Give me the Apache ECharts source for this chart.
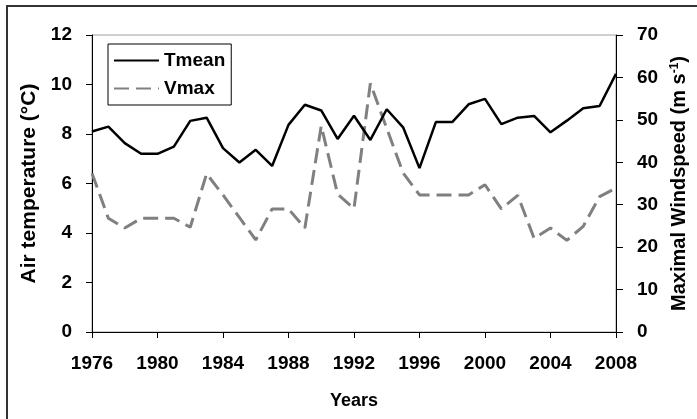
<!DOCTYPE html>
<html>
<head>
<meta charset="utf-8">
<script src="https://cdn.jsdelivr.net/npm/echarts@6/dist/echarts.min.js"></script>
<style>
html, body { margin: 0; padding: 0; background: #fff; }
#chart { width: 697px; height: 419px; }
</style>
</head>
<body>
<div id="chart"></div>
<script>
// years 1976..2008
var years = [1976, 1977, 1978, 1979, 1980, 1981, 1982, 1983, 1984, 1985, 1986,
	1987, 1988, 1989, 1990, 1991, 1992, 1993, 1994, 1995, 1996, 1997,
	1998, 1999, 2000, 2001, 2002, 2003, 2004, 2005, 2006, 2007, 2008];
// air temperature, left axis
var tmean = [8.1, 8.3, 7.63, 7.2, 7.2, 7.49, 8.53, 8.66, 7.43, 6.85, 7.36,
	6.71, 8.37, 9.18, 8.95, 7.8, 8.74, 7.76, 9.0, 8.27, 6.62, 8.48,
	8.48, 9.2, 9.42, 8.4, 8.66, 8.73, 8.07, 8.54, 9.04, 9.13, 10.43];
// max windspeed, right axis
var vmax = [37.4, 26.8, 24.5, 26.8, 26.8, 26.8, 24.7, 37.3, 32.3, 27.0, 21.7,
	29.0, 29.0, 24.5, 48.6, 32.5, 29.1, 58.6, 48.0, 37.5, 32.3, 32.3,
	32.3, 32.3, 34.7, 29.0, 32.2, 22.1, 24.5, 21.6, 24.9, 31.9, 33.9];
var xTicks = [1976, 1980, 1984, 1988, 1992, 1996, 2000, 2004, 2008];

var font = '"Liberation Sans", Arial, sans-serif';

function pairs(vals) {
	return years.map(function (y, i) { return [y, vals[i]]; });
}

var chart = echarts.init(document.getElementById('chart'));
var option = {
	backgroundColor: '#fff',
	animation: false,
	textStyle: { fontFamily: font },
	graphic: [
		{ type: 'line', shape: { x1: 6, y1: 6, x2: 697, y2: 6 }, style: { stroke: '#333', lineWidth: 2 } },
		{ type: 'line', shape: { x1: 7, y1: 6, x2: 7, y2: 419 }, style: { stroke: '#333', lineWidth: 2 } }
	],
	grid: {
		left: 92, right: 70, top: 35, bottom: 87,
		show: true, borderColor: '#a0a0a0', borderWidth: 1
	},
	legend: {
		orient: 'vertical',
		left: 108, top: 44,
		itemWidth: 45, itemHeight: 14, itemGap: 9,
		padding: [7, 6, 7, 5],
		borderColor: '#000', borderWidth: 1,
		itemStyle: { opacity: 0 },
		textStyle: { fontFamily: font, fontWeight: 'bold', fontSize: 19, color: '#000' },
		data: ['Tmean', 'Vmax']
	},
	xAxis: {
		type: 'value', min: 1976, max: 2008, interval: 4,
		name: 'Years', nameLocation: 'middle', nameGap: 60,
		nameTextStyle: { fontFamily: font, fontWeight: 'bold', fontSize: 18, color: '#000' },
		axisLine: { lineStyle: { color: '#000', width: 1 } },
		axisTick: { length: 6, lineStyle: { color: '#000' } },
		axisLabel: {
			fontFamily: font, fontWeight: 'bold', fontSize: 19, color: '#000', margin: 22,
			formatter: function (v) { return xTicks.indexOf(v) >= 0 ? String(v) : ''; }
		},
		splitLine: { show: false }
	},
	yAxis: [{
		type: 'value', min: 0, max: 12, interval: 2, position: 'left',
		name: 'Air temperature (°C)', nameLocation: 'middle', nameGap: 48,
		nameTextStyle: { fontFamily: font, fontWeight: 'bold', fontSize: 21, color: '#000' },
		axisLine: { show: true, lineStyle: { color: '#000', width: 1 } },
		axisTick: { show: true, length: 6, lineStyle: { color: '#000' } },
		axisLabel: { fontFamily: font, fontWeight: 'bold', fontSize: 19, color: '#000', margin: 20 },
		splitLine: { show: false }
	}, {
		type: 'value', min: 0, max: 70, interval: 10, position: 'right',
		name: 'Maximal Windspeed (m s{sup|-1})', nameLocation: 'middle', nameGap: 53,
		nameTextStyle: {
			fontFamily: font, fontWeight: 'bold', fontSize: 20, color: '#000',
			rich: { sup: { fontFamily: font, fontWeight: 'bold', fontSize: 12, color: '#000', verticalAlign: 'top', padding: [0, 0, 8, 0] } }
		},
		axisLine: { show: true, lineStyle: { color: '#000', width: 1 } },
		axisTick: { show: true, length: 7, lineStyle: { color: '#000' } },
		axisLabel: { fontFamily: font, fontWeight: 'bold', fontSize: 19, color: '#000', margin: 21 },
		splitLine: { show: false }
	}],
	series: [{
		name: 'Tmean', type: 'line', yAxisIndex: 0,
		data: pairs(tmean),
		symbol: 'none', z: 3,
		lineStyle: { color: '#000', width: 2.5 },
		itemStyle: { color: '#000' }
	}, {
		name: 'Vmax', type: 'line', yAxisIndex: 1,
		data: pairs(vmax),
		symbol: 'none', z: 2,
		lineStyle: { color: '#808080', width: 3, type: [15, 7] },
		itemStyle: { color: '#808080' }
	}]
};
chart.setOption(option);
</script>
</body>
</html>
